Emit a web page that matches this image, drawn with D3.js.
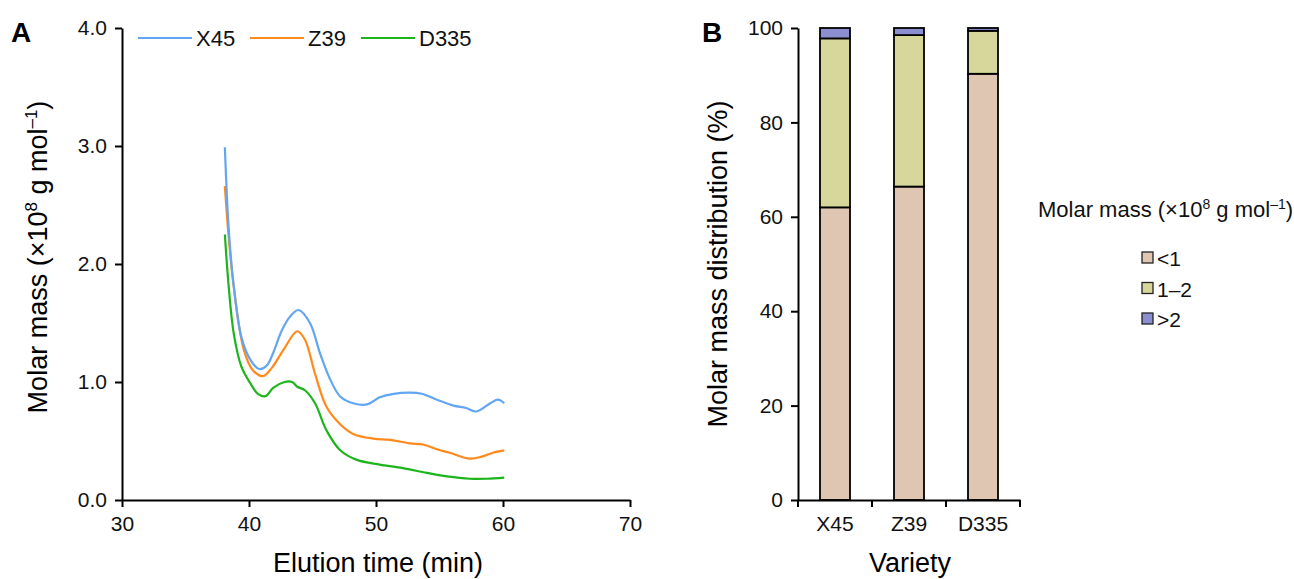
<!DOCTYPE html>
<html>
<head>
<meta charset="utf-8">
<script src="https://cdn.jsdelivr.net/npm/d3@7"></script>
<style>
  body { margin: 0; background: #fff; }
  svg { font-family: "Liberation Sans", Arial, sans-serif; }
  .axis path, .axis line { stroke: #000; stroke-width: 2px; }
  .axis text { font-size: 21px; fill: #111; }
</style>
</head>
<body>
<div id="chart"></div>
<script>
// Panel A: molar mass vs elution time
var timeX45 = [38.1, 38.4, 38.8, 39.4, 40.1, 40.8, 41.4, 42.6, 43.2, 43.9, 44.8, 45.6, 46.4, 47.2, 48.2, 49.3, 50.3, 51.4, 52.7, 53.6, 54.8, 56.1, 57.1, 57.9, 59.0, 59.6, 60.1];
var massX45 = [2.99, 2.30, 1.81, 1.38, 1.19, 1.11, 1.14, 1.44, 1.55, 1.61, 1.50, 1.24, 1.02, 0.875, 0.82, 0.81, 0.87, 0.90, 0.91, 0.90, 0.85, 0.80, 0.78, 0.75, 0.82, 0.85, 0.82];

var timeZ39 = [38.1, 38.4, 38.8, 39.6, 40.3, 41.1, 41.8, 42.7, 43.8, 44.4, 45.2, 46.1, 47.2, 48.2, 49.8, 51.1, 52.7, 53.7, 54.8, 55.8, 57.4, 58.4, 59.2, 60.1];
var massZ39 = [2.66, 2.23, 1.81, 1.27, 1.10, 1.05, 1.12, 1.27, 1.43, 1.36, 1.07, 0.79, 0.64, 0.56, 0.52, 0.51, 0.48, 0.47, 0.43, 0.40, 0.35, 0.37, 0.40, 0.42];

var timeD335 = [38.1, 38.4, 38.8, 39.4, 40.1, 40.7, 41.3, 41.9, 42.8, 43.4, 43.8, 44.4, 45.2, 46.1, 47.2, 48.5, 50.3, 52.1, 54.0, 55.6, 57.4, 58.7, 60.1];
var massD335 = [2.25, 1.81, 1.41, 1.13, 0.99, 0.90, 0.88, 0.95, 1.00, 1.00, 0.96, 0.93, 0.82, 0.59, 0.42, 0.34, 0.30, 0.27, 0.23, 0.20, 0.18, 0.18, 0.19];

var seriesNames = ["X45", "Z39", "D335"];
var seriesColors = ["#62a5f2", "#ff8a1c", "#1cb51c"];

// Panel B: stacked distribution (%)
var varieties = ["X45", "Z39", "D335"];
var classNames = ["<1", "1–2", ">2"];
var classColors = ["#dfc6b3", "#d7d79b", "#8b8fd2"];
var lowPct = [62.0, 66.4, 90.3];
var midPct = [35.8, 32.1, 9.1];
var highPct = [2.2, 1.5, 0.6];

var svg = d3.select("#chart").append("svg")
    .attr("width", 1294)
    .attr("height", 579);

// ---------- Panel A ----------
var xA = d3.scaleLinear().domain([30, 70]).range([122, 630]);
var yA = d3.scaleLinear().domain([0, 4]).range([500, 28]);

svg.append("g").attr("class", "axis")
    .attr("transform", "translate(0,500)")
    .call(d3.axisBottom(xA).tickValues([30, 40, 50, 60, 70]).tickSize(7).tickSizeOuter(0).tickPadding(9));

svg.append("g").attr("class", "axis")
    .attr("transform", "translate(122,0)")
    .call(d3.axisLeft(yA).tickValues([0, 1, 2, 3, 4]).tickFormat(d3.format(".1f")).tickSize(7).tickSizeOuter(0).tickPadding(8));

var lineA = d3.line()
    .x(function(d) { return xA(d[0]); })
    .y(function(d) { return yA(d[1]); })
    .curve(d3.curveCatmullRom.alpha(0.5));

var seriesA = [
    d3.zip(timeX45, massX45),
    d3.zip(timeZ39, massZ39),
    d3.zip(timeD335, massD335)
];

// draw D335 first so blue sits on top
[2, 1, 0].forEach(function(i) {
    svg.append("path")
        .datum(seriesA[i])
        .attr("fill", "none")
        .attr("stroke", seriesColors[i])
        .attr("stroke-width", 2.2)
        .attr("d", lineA);
});

// legend A
var legA = svg.append("g").attr("transform", "translate(138,38)");
var legX = [0, 112, 223];
seriesNames.forEach(function(n, i) {
    legA.append("line")
        .attr("x1", legX[i]).attr("x2", legX[i] + 54)
        .attr("y1", 0).attr("y2", 0)
        .attr("stroke", seriesColors[i]).attr("stroke-width", 2.2);
    legA.append("text")
        .attr("x", legX[i] + 58).attr("y", 8)
        .attr("font-size", 22).attr("fill", "#111")
        .text(n);
});

svg.append("text")
    .attr("x", 11).attr("y", 42)
    .attr("font-size", 28).attr("font-weight", "bold")
    .text("A");

svg.append("text")
    .attr("x", 378).attr("y", 572)
    .attr("text-anchor", "middle").attr("font-size", 27)
    .text("Elution time (min)");

var yLabA = svg.append("text")
    .attr("transform", "translate(47,257) rotate(-90)")
    .attr("text-anchor", "middle").attr("font-size", 27);
yLabA.append("tspan").text("Molar mass (×10");
yLabA.append("tspan").attr("font-size", 17).attr("dy", -10).text("8");
yLabA.append("tspan").attr("dy", 10).text(" g mol");
yLabA.append("tspan").attr("font-size", 17).attr("dy", -10).text("–1");
yLabA.append("tspan").attr("dy", 10).text(")");

// ---------- Panel B ----------
var xB = d3.scaleBand().domain(varieties).range([798, 1020]).paddingInner(0).paddingOuter(0);
var yB = d3.scaleLinear().domain([0, 100]).range([500, 28]);
var barW = 30;

var table = varieties.map(function(v, i) {
    return { variety: v, "<1": lowPct[i], "1–2": midPct[i], ">2": highPct[i] };
});
var stacked = d3.stack().keys(classNames)(table);

svg.append("g").selectAll("g")
    .data(stacked)
    .join("g")
    .attr("fill", function(d, i) { return classColors[i]; })
    .selectAll("rect")
    .data(function(d) { return d; })
    .join("rect")
    .attr("x", function(d) { return xB(d.data.variety) + (xB.bandwidth() - barW) / 2; })
    .attr("width", barW)
    .attr("y", function(d) { return yB(d[1]); })
    .attr("height", function(d) { return yB(d[0]) - yB(d[1]); })
    .attr("stroke", "#000")
    .attr("stroke-width", 1.8);

var xAxisB = svg.append("g").attr("class", "axis")
    .attr("transform", "translate(0,500)")
    .call(d3.axisBottom(xB).tickSize(0).tickPadding(16));
xAxisB.selectAll("text").attr("font-size", 22);
// tick marks at band boundaries
xAxisB.selectAll(".bound")
    .data([0, 1, 2, 3])
    .join("line")
    .attr("class", "bound")
    .attr("x1", function(i) { return 798 + i * xB.bandwidth(); })
    .attr("x2", function(i) { return 798 + i * xB.bandwidth(); })
    .attr("y1", 0).attr("y2", 7);

svg.append("g").attr("class", "axis")
    .attr("transform", "translate(798,0)")
    .call(d3.axisLeft(yB).tickValues([0, 20, 40, 60, 80, 100]).tickSize(7).tickSizeOuter(0).tickPadding(8));

svg.append("text")
    .attr("x", 702).attr("y", 42)
    .attr("font-size", 28).attr("font-weight", "bold")
    .text("B");

svg.append("text")
    .attr("x", 910).attr("y", 572)
    .attr("text-anchor", "middle").attr("font-size", 27)
    .text("Variety");

svg.append("text")
    .attr("transform", "translate(727,264) rotate(-90)")
    .attr("text-anchor", "middle").attr("font-size", 27)
    .text("Molar mass distribution (%)");

// legend B
var legTitle = svg.append("text")
    .attr("x", 1038).attr("y", 217)
    .attr("font-size", 22).attr("fill", "#111");
legTitle.append("tspan").text("Molar mass (×10");
legTitle.append("tspan").attr("font-size", 14).attr("dy", -8).text("8");
legTitle.append("tspan").attr("dy", 8).text(" g mol");
legTitle.append("tspan").attr("font-size", 14).attr("dy", -8).text("–1");
legTitle.append("tspan").attr("dy", 8).text(")");

var legB = svg.append("g").attr("transform", "translate(1142,0)");
classNames.forEach(function(n, i) {
    var cy = 258 + i * 30.5;
    legB.append("rect")
        .attr("x", 0).attr("y", cy - 6)
        .attr("width", 11).attr("height", 11)
        .attr("fill", classColors[i])
        .attr("stroke", "#222").attr("stroke-width", 1.3);
    legB.append("text")
        .attr("x", 15).attr("y", cy + 8)
        .attr("font-size", 21).attr("fill", "#111")
        .text(n);
});
</script>
</body>
</html>
